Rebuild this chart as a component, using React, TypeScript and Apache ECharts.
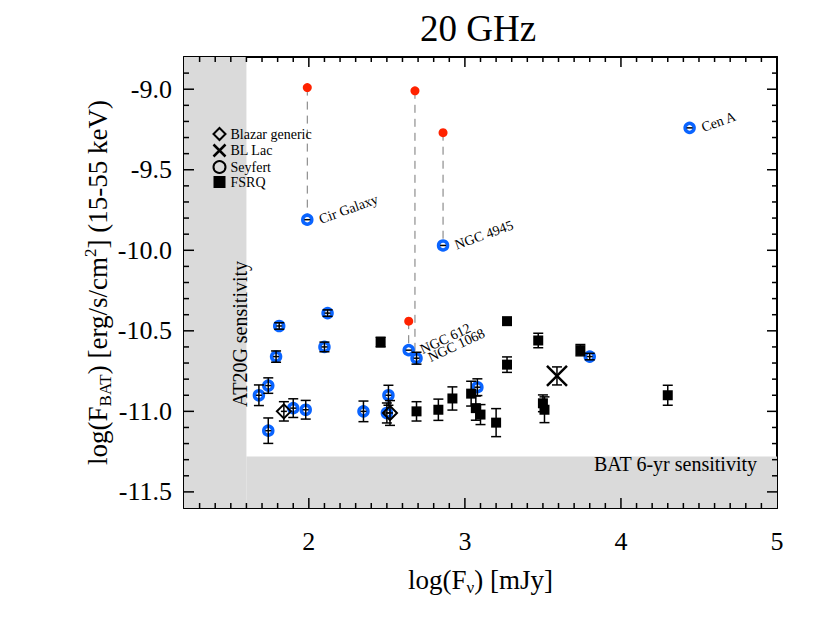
import React, { useEffect, useRef } from 'react';
import * as echarts from 'echarts';

// ---- axis ranges & ticks ----
const X_MIN = 1.2;
const X_MAX = 5;
const Y_MIN = -11.6;
const Y_MAX = -8.8;
const xTicks = [2, 3, 4, 5];
const yTicks = [-11.5, -11.0, -10.5, -10.0, -9.5, -9.0];
const MINOR_STEP = 0.1;

// ---- sensitivity limits ----
const at20gLimit = 1.6;
const batLimit = -11.28;

// ---- Seyfert (blue open circles) ----
const seyX = [1.68, 1.74, 1.74, 1.79, 1.81, 1.90, 1.98, 2.10, 2.12, 2.35, 2.50, 2.51, 2.64, 2.69, 3.08, 3.80, 1.99, 2.86, 4.44];
const seyY = [-10.90, -10.84, -11.12, -10.66, -10.47, -10.98, -10.99, -10.60, -10.39, -11.00, -11.01, -10.90, -10.62, -10.67, -10.85, -10.66, -9.81, -9.97, -9.24];
const seyErr = [0.064, 0.048, 0.079, 0.035, 0.02, 0.058, 0.058, 0.03, 0.02, 0.064, 0.062, 0.062, 0.0, 0.037, 0.052, 0.02, 0, 0, 0];
const seyNames = ['', '', '', '', '', '', '', '', '', '', '', '', 'NGC 612', 'NGC 1068', '', '', 'Cir Galaxy', 'NGC 4945', 'Cen A'];

// ---- red points linked to Seyferts (dashed) ----
const redX = [1.99, 2.68, 2.86, 2.64];
const redY = [-8.99, -9.01, -9.27, -10.44];
const redLinkY = [-9.81, -10.67, -9.97, -10.62];

// ---- FSRQ (filled squares) ----
const fsX = [2.46, 2.69, 2.83, 2.92, 3.04, 3.07, 3.10, 3.20, 3.27, 3.27, 3.47, 3.50, 3.51, 3.74, 4.30];
const fsY = [-10.57, -11.00, -10.99, -10.92, -10.89, -10.98, -11.02, -11.07, -10.44, -10.71, -10.56, -10.95, -10.99, -10.62, -10.90];
const fsErr = [0.03, 0.06, 0.066, 0.072, 0.077, 0.075, 0.062, 0.087, 0, 0.048, 0.045, 0.052, 0.08, 0.035, 0.062];

// ---- Blazar generic (open diamonds) ----
const bzX = [1.84, 2.52];
const bzY = [-11.00, -11.01];
const bzErr = [0.06, 0.077];

// ---- BL Lac (X) ----
const blX = [3.59];
const blY = [-10.78];
const blErr = [0.056];

const serif = 'Liberation Serif';
const BLUE = '#0a64ff';
const RED = '#ff2200';
const XPATH = 'path://M0,0L10,10M10,0L0,10';

const labelRot: Record<string, number> = {
  'NGC 612': 25,
  'NGC 1068': 25,
  'Cir Galaxy': 20,
  'NGC 4945': 20,
  'Cen A': 20,
};

function errSeries(xs: number[], ys: number[], es: number[], withH: boolean, z: number) {
  return {
    type: 'custom',
    z,
    silent: true,
    encode: { x: 0, y: 1 },
    data: xs.map((x, i) => [x, ys[i], es[i]]),
    renderItem: (_p: any, api: any) => {
      const x = api.value(0);
      const y = api.value(1);
      const e = api.value(2);
      const c = api.coord([x, y]);
      const t = api.coord([x, y + e]);
      const b = api.coord([x, y - e]);
      const cap = 5;
      const st = { stroke: '#000', lineWidth: 1.5 };
      const children: any[] = [];
      if (e > 0) {
        children.push({ type: 'line', shape: { x1: c[0], y1: t[1], x2: c[0], y2: b[1] }, style: st });
        children.push({ type: 'line', shape: { x1: c[0] - cap, y1: t[1], x2: c[0] + cap, y2: t[1] }, style: st });
        children.push({ type: 'line', shape: { x1: c[0] - cap, y1: b[1], x2: c[0] + cap, y2: b[1] }, style: st });
      }
      if (withH) {
        children.push({ type: 'line', shape: { x1: c[0] - 3, y1: c[1], x2: c[0] + 3, y2: c[1] }, style: st });
      }
      return { type: 'group', children };
    },
  };
}

// tick rows: [value, isMajor, axis(0 = x, 1 = y)]
function tickRows(min: number, max: number, majors: number[], axis: number) {
  const rows: number[][] = [];
  const n = Math.round((max - min) / MINOR_STEP);
  for (let k = 1; k < n; k++) {
    const v = Math.round((min + k * MINOR_STEP) * 1000) / 1000;
    const major = majors.some((m) => Math.abs(m - v) < 1e-6) ? 1 : 0;
    rows.push([v, major, axis]);
  }
  return rows;
}

const nameRich = {
  sub: { fontFamily: serif, fontSize: 17, color: '#000', verticalAlign: 'bottom', lineHeight: 17 },
  sup: { fontFamily: serif, fontSize: 17, color: '#000', verticalAlign: 'top', lineHeight: 17 },
};

function buildOption() {
  const axLine = { show: true, onZero: false, lineStyle: { color: '#000', width: 2 } };
  const noSplit = { show: false };

  const xAxis = [
    {
      type: 'value', min: X_MIN, max: X_MAX, position: 'bottom',
      splitLine: noSplit, axisLine: axLine, axisTick: { show: false },
      axisLabel: { customValues: xTicks, margin: 20, color: '#000', fontFamily: serif, fontSize: 26, formatter: (v: number) => String(v) },
      name: 'log(F{sub|ν}) [mJy]', nameLocation: 'middle', nameGap: 56, nameMoveOverlap: false,
      nameTextStyle: { fontFamily: serif, fontSize: 27, color: '#000', lineHeight: 32, rich: nameRich },
    },
    {
      type: 'value', min: X_MIN, max: X_MAX, position: 'top',
      splitLine: noSplit, axisLine: axLine, axisTick: { show: false }, axisLabel: { show: false },
    },
  ];

  const yAxis = [
    {
      type: 'value', min: Y_MIN, max: Y_MAX, position: 'left',
      splitLine: noSplit, axisLine: axLine, axisTick: { show: false },
      axisLabel: { customValues: yTicks, margin: 12, color: '#000', fontFamily: serif, fontSize: 26, formatter: (v: number) => v.toFixed(1) },
      name: 'log(F{sub|BAT}) [erg/s/cm{sup|2}] (15-55 keV)', nameLocation: 'middle', nameGap: 70, nameRotate: 90,
      nameMoveOverlap: false,
      nameTextStyle: { fontFamily: serif, fontSize: 27, color: '#000', lineHeight: 32, rich: nameRich },
    },
    {
      type: 'value', min: Y_MIN, max: Y_MAX, position: 'right',
      splitLine: noSplit, axisLine: axLine, axisTick: { show: false }, axisLabel: { show: false },
    },
  ];

  const grayData = [
    [X_MIN, at20gLimit, Y_MIN, Y_MAX],
    [at20gLimit, X_MAX, Y_MIN, batLimit],
  ];

  const ticks = [...tickRows(X_MIN, X_MAX, xTicks, 0), ...tickRows(Y_MIN, Y_MAX, yTicks, 1)];

  const series: any[] = [
    {
      type: 'custom', name: 'limits', z: 1, silent: true,
      encode: { x: [0, 1], y: [2, 3] },
      data: grayData,
      renderItem: (_p: any, api: any) => {
        const a = api.coord([api.value(0), api.value(3)]);
        const b = api.coord([api.value(1), api.value(2)]);
        return { type: 'rect', shape: { x: a[0], y: a[1], width: b[0] - a[0], height: b[1] - a[1] }, style: { fill: '#dadada' } };
      },
    },
    {
      type: 'custom', name: 'links', z: 2, silent: true,
      encode: { x: 0, y: [1, 2] },
      data: redX.map((x, i) => [x, redY[i], redLinkY[i]]),
      renderItem: (_p: any, api: any) => {
        const a = api.coord([api.value(0), api.value(1)]);
        const b = api.coord([api.value(0), api.value(2)]);
        return { type: 'line', shape: { x1: a[0], y1: a[1], x2: b[0], y2: b[1] }, style: { stroke: '#777', lineWidth: 1, lineDash: [8, 6] } };
      },
    },
    {
      type: 'scatter', name: 'red', z: 3, silent: true,
      symbol: 'circle', symbolSize: 9,
      itemStyle: { color: RED, opacity: 1 },
      data: redX.map((x, i) => [x, redY[i]]),
    },
    {
      type: 'scatter', name: 'Seyfert', z: 4, silent: true,
      symbol: 'circle', symbolSize: 9,
      itemStyle: { color: '#fff', borderColor: BLUE, borderWidth: 3.5, opacity: 1 },
      data: seyX.map((x, i) => {
        const nm = seyNames[i];
        const item: any = { value: [x, seyY[i]], name: nm };
        if (nm) {
          item.label = {
            show: true, position: 'right', distance: 6, formatter: nm, rotate: labelRot[nm] || 20,
            fontFamily: serif, fontSize: 14, color: '#000',
          };
        }
        return item;
      }),
    },
    {
      type: 'scatter', name: 'Blazar generic', z: 4, silent: true,
      symbol: 'diamond', symbolSize: 14,
      itemStyle: { color: 'rgba(255,255,255,0)', borderColor: '#000', borderWidth: 2, opacity: 1 },
      data: bzX.map((x, i) => [x, bzY[i]]),
    },
    {
      type: 'scatter', name: 'BL Lac', z: 4, silent: true,
      symbol: XPATH, symbolSize: 20,
      itemStyle: { color: 'none', borderColor: '#000', borderWidth: 2.5, opacity: 1 },
      data: blX.map((x, i) => [x, blY[i]]),
    },
    {
      type: 'scatter', name: 'FSRQ', z: 4, silent: true,
      symbol: 'rect', symbolSize: 10,
      itemStyle: { color: '#000', opacity: 1 },
      data: fsX.map((x, i) => [x, fsY[i]]),
    },
    errSeries(seyX, seyY, seyErr, true, 5),
    errSeries(bzX, bzY, bzErr, true, 5),
    errSeries(blX, blY, blErr, false, 5),
    errSeries(fsX, fsY, fsErr, false, 5),
    {
      type: 'custom', name: 'ticks', z: 6, silent: true,
      data: ticks,
      renderItem: (_p: any, api: any) => {
        const v = api.value(0);
        const len = api.value(1) ? 10 : 5;
        const isY = api.value(2) === 1;
        const st = { stroke: '#000', lineWidth: 1.5 };
        if (!isY) {
          const b = api.coord([v, Y_MIN]);
          const t = api.coord([v, Y_MAX]);
          return {
            type: 'group', children: [
              { type: 'line', shape: { x1: b[0], y1: b[1], x2: b[0], y2: b[1] - len }, style: st },
              { type: 'line', shape: { x1: t[0], y1: t[1], x2: t[0], y2: t[1] + len }, style: st },
            ],
          };
        }
        const l = api.coord([X_MIN, v]);
        const r = api.coord([X_MAX, v]);
        return {
          type: 'group', children: [
            { type: 'line', shape: { x1: l[0], y1: l[1], x2: l[0] + len, y2: l[1] }, style: st },
            { type: 'line', shape: { x1: r[0], y1: r[1], x2: r[0] - len, y2: r[1] }, style: st },
          ],
        };
      },
    },
  ];

  return {
    animation: false,
    backgroundColor: '#fff',
    title: {
      text: '20 GHz', left: 473, top: 5, textAlign: 'center',
      textStyle: { fontFamily: serif, fontSize: 37, fontWeight: 'normal', color: '#000' },
    },
    legend: {
      orient: 'vertical', left: 206, top: 122, itemWidth: 12, itemHeight: 12, itemGap: 1,
      selectedMode: false,
      textStyle: { fontFamily: serif, fontSize: 14, color: '#000', lineHeight: 14 },
      data: [
        { name: 'Blazar generic', icon: 'diamond', itemStyle: { color: 'rgba(255,255,255,0)', borderColor: '#000', borderWidth: 2 } },
        { name: 'BL Lac', icon: XPATH, itemStyle: { color: 'none', borderColor: '#000', borderWidth: 2.5 } },
        { name: 'Seyfert', icon: 'circle', itemStyle: { color: 'rgba(255,255,255,0)', borderColor: '#000', borderWidth: 2 } },
        { name: 'FSRQ', icon: 'rect', itemStyle: { color: '#000', borderWidth: 0 } },
      ],
    },
    grid: { left: 184, right: 53, top: 57, bottom: 116 },
    xAxis,
    yAxis,
    series,
    graphic: [
      {
        type: 'text', x: 240, y: 334, rotation: Math.PI / 2, z: 10,
        style: { text: 'AT20G sensitivity', font: `20px ${serif}`, fill: '#000', align: 'center', verticalAlign: 'middle' },
      },
      {
        type: 'text', x: 757, y: 464, z: 10,
        style: { text: 'BAT 6-yr sensitivity', font: `20px ${serif}`, fill: '#000', align: 'right', verticalAlign: 'middle' },
      },
    ],
  };
}

export default function App() {
  const ref = useRef<HTMLDivElement>(null);
  useEffect(() => {
    if (!ref.current) return;
    const chart = echarts.init(ref.current, undefined, { renderer: 'svg' });
    chart.setOption(buildOption() as any);
    return () => chart.dispose();
  }, []);
  return <div ref={ref} style={{ position: 'fixed', left: 0, top: 0, width: 830, height: 624 }} />;
}
